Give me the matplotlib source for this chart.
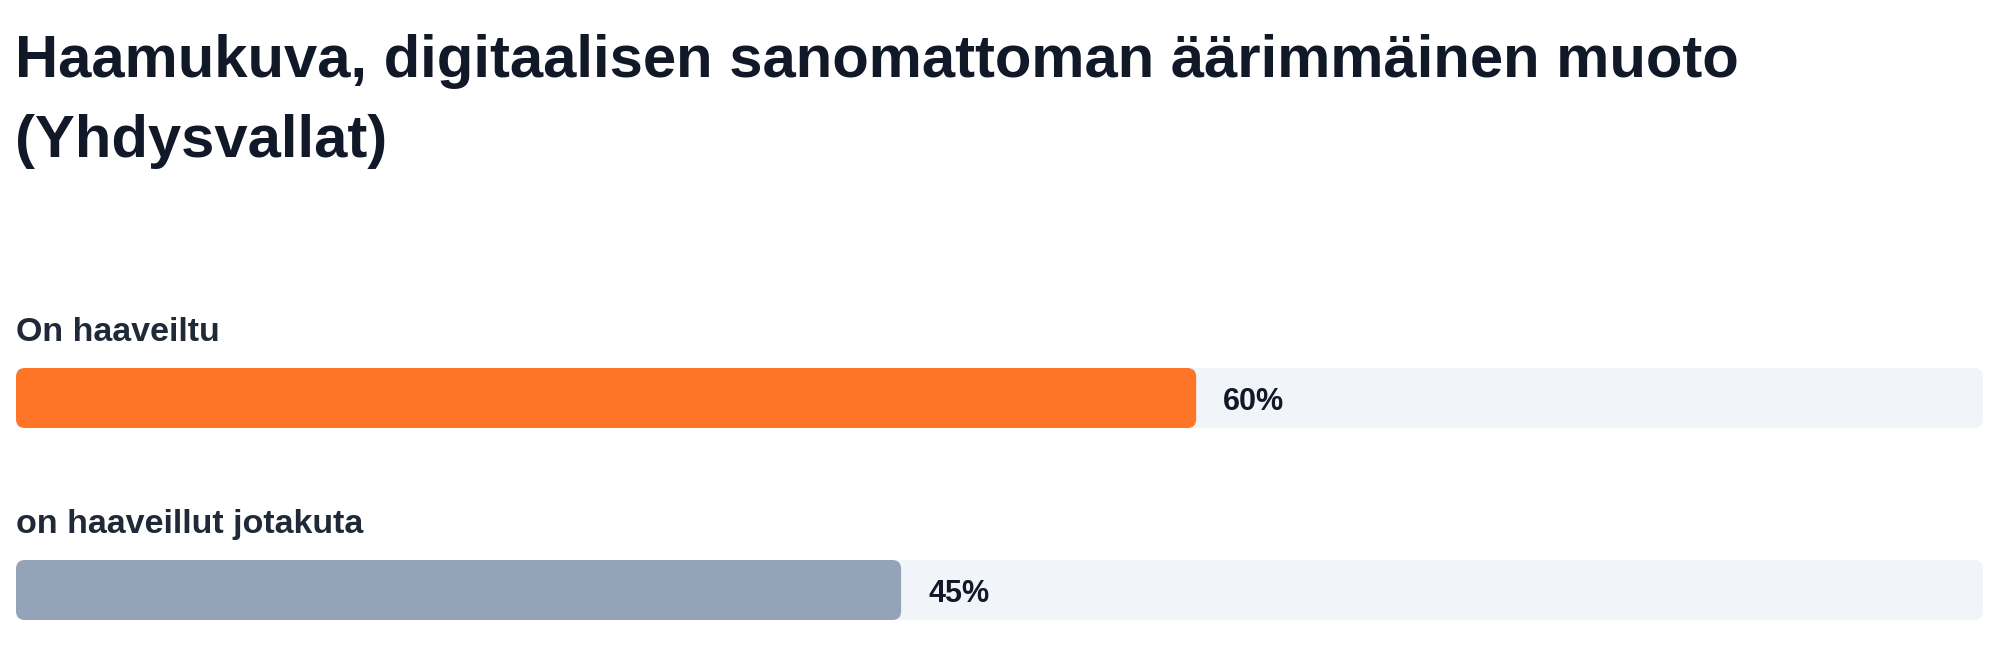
import matplotlib.pyplot as plt
from matplotlib.patches import FancyBboxPatch

plt.rcParams['font.family'] = ['Liberation Sans', 'DejaVu Sans']

title_lines = ['Haamukuva, digitaalisen sanomattoman äärimmäinen muoto', '(Yhdysvallat)']
categories = ['On haaveiltu', 'on haaveillut jotakuta']
values = [60, 45]
colors = ['#fe7527', '#94a3b8']

W, H = 2000, 668
fig = plt.figure(figsize=(W / 100, H / 100), dpi=100)
fig.patch.set_facecolor('white')

x0, x1 = 16, 1983          # track left/right in pixels
ax = fig.add_axes([x0 / W, 0, (x1 - x0) / W, 1])
ax.set_xlim(0, 100)
ax.set_ylim(H, 0)           # y in pixels, top down
ax.axis('off')

xunit = (x1 - x0) / 100     # pixels per x unit
radius = 9
bar_h = 60
bar_tops = [368, 560]

def rbar(x, y, w, h, color):
    p = FancyBboxPatch((x, y), w, h,
                       boxstyle=f'round,pad=0,rounding_size={radius / xunit}',
                       mutation_aspect=xunit, fc=color, ec='none')
    ax.add_patch(p)

for cat, v, c, top in zip(categories, values, colors, bar_tops):
    rbar(0, top, 100, bar_h, '#f1f5f9')
    rbar(0, top, v, bar_h, c)
    ax.text(0, top - 27, cat, fontsize=24.5, fontweight='bold', color='#1f2937',
            va='baseline', ha='left')
    ax.annotate(f'{v}%', xy=(v, top + 42), xytext=(27, 0), textcoords='offset pixels',
                fontsize=22, fontweight='bold', color='#111827', va='baseline', ha='left')

for line, base in zip(title_lines, [77, 157]):
    fig.text(15 / W, 1 - base / H, line, fontsize=43, fontweight='bold', color='#111827',
             va='baseline', ha='left')

fig.savefig('out.png', dpi=100)
